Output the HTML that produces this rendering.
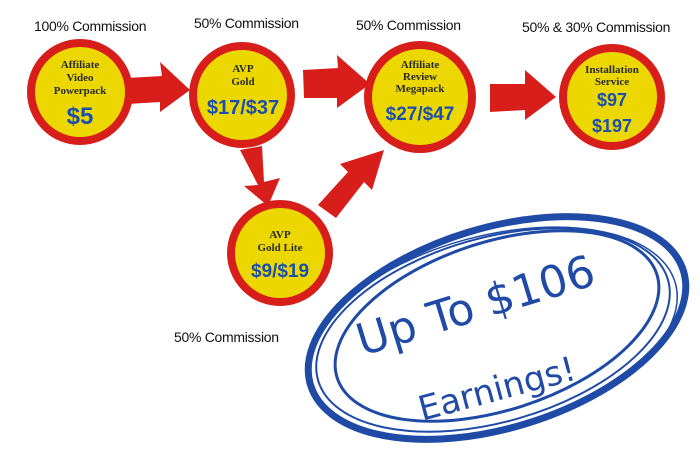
<!DOCTYPE html>
<html><head><meta charset="utf-8"><style>
html,body{margin:0;padding:0;background:#fff;width:700px;height:450px;overflow:hidden}
svg{display:block}
.c{font-family:"Liberation Serif",serif;font-weight:bold;fill:#2a2a2a;text-anchor:middle}
.p{font-family:"Liberation Sans",sans-serif;font-weight:bold;fill:#1a4fb0;text-anchor:middle}
.h{font-family:"Liberation Sans",sans-serif;font-size:14px;fill:#111;letter-spacing:-0.3px}
</style></head><body>
<svg width="700" height="450" viewBox="0 0 700 450">
<g class="h">
<text x="34" y="31">100% Commission</text>
<text x="194" y="28">50% Commission</text>
<text x="356" y="30">50% Commission</text>
<text x="522" y="32">50% &amp; 30% Commission</text>
<text x="174" y="342">50% Commission</text>
</g>
<g fill="#d81e1a">
<polygon points="127,78 162,76 160,62 190,90 160,112 160,102 128,104"/>
<polygon points="303,70 338,68 337,55 370,84 337,108 337,98 304,98"/>
<polygon points="490,84 525,84 525,70 556,97 525,120 525,110 490,112"/>
<polygon points="240,150 262,146 264,182 280,178 268,206 244,186 258,185"/>
<polygon points="318,205 348,172 340,164 384,150 372,190 364,182 336,218"/>
</g>
<g stroke="#d81e1a" stroke-width="8" fill="#ecd800">
<circle cx="80" cy="92" r="49"/>
<circle cx="242" cy="95" r="49"/>
<circle cx="420" cy="97" r="52"/>
<circle cx="612" cy="97" r="49"/>
<circle cx="280" cy="253" r="49"/>
</g>
<g class="c" font-size="11">
<text x="80" y="68">Affiliate</text><text x="80" y="81">Video</text><text x="80" y="94">Powerpack</text>
<text x="243" y="72">AVP</text><text x="243" y="85">Gold</text>
<text x="420" y="68">Affiliate</text><text x="420" y="80">Review</text><text x="420" y="92">Megapack</text>
<text x="612" y="73">Installation</text><text x="612" y="85">Service</text>
<text x="280" y="238">AVP</text><text x="280" y="251">Gold Lite</text>
</g>
<g class="p">
<text x="80" y="124" font-size="24">$5</text>
<text x="243" y="114" font-size="20">$17/$37</text>
<text x="420" y="120" font-size="19">$27/$47</text>
<text x="612" y="106" font-size="18">$97</text>
<text x="612" y="132" font-size="18">$197</text>
<text x="280" y="277" font-size="19">$9/$19</text>
</g>
<g fill="none" stroke="#1f4aa6">
<ellipse cx="497" cy="328" rx="195" ry="100" transform="rotate(-17 497 328)" stroke-width="7"/>
<ellipse cx="493" cy="330" rx="182" ry="92" transform="rotate(-16 493 330)" stroke-width="2"/>
<ellipse cx="497" cy="326" rx="168" ry="84" transform="rotate(-18 497 326)" stroke-width="3"/>
<ellipse cx="492" cy="333" rx="190" ry="97" transform="rotate(-15 492 333)" stroke-width="1.5"/>
</g>
<g font-family="DejaVu Sans,sans-serif" fill="#1f4aa6" text-anchor="middle">
<text x="480" y="320" font-size="44" transform="rotate(-17 480 320)">Up To $106</text>
<text x="500" y="400" font-size="34" transform="rotate(-15 500 400)">Earnings!</text>
</g>
</svg>
</body></html>
